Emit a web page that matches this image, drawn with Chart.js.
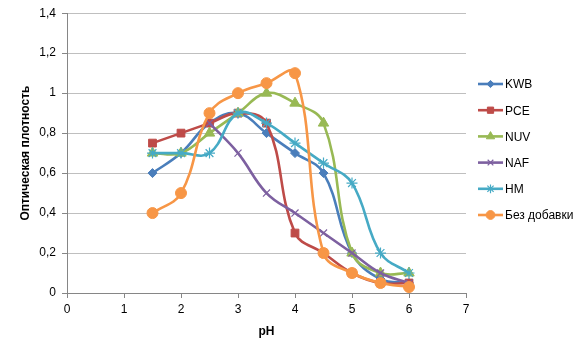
<!DOCTYPE html>
<html>
<head>
<meta charset="utf-8">
<script src="https://cdn.jsdelivr.net/npm/chart.js@4"></script>
<style>
	html, body { margin: 0; padding: 0; background: #fff; }
	canvas { display: block; }
</style>
</head>
<body>
<canvas id="chart" width="585" height="343"></canvas>
<script>

// pH points where samples were measured
var ph = [1.5, 2, 2.5, 3, 3.5, 4, 4.5, 5, 5.5, 6];

// optical density per additive
var kwb   = [0.6,  0.7, 0.85, 0.9, 0.8,  0.7,  0.6,  0.2, 0.07, 0.05];
var pce   = [0.75, 0.8, 0.85, 0.9, 0.85, 0.3,  0.2,  0.1, 0.05, 0.05];
var nuv   = [0.7,  0.7, 0.8,  0.9, 1.0,  0.95, 0.85, 0.2, 0.1,  0.1];
var naf   = [null, null, 0.85, 0.7, 0.5, 0.4,  0.3,  0.2, 0.1,  0.05];
var hm    = [0.7,  0.7, 0.7,  0.9, 0.85, 0.75, 0.65, 0.55, 0.2, 0.1];
var plain = [0.4,  0.5, 0.9,  1.0, 1.05, 1.1,  0.2,  0.1, 0.05, 0.03];

var yTicks = [0, 0.2, 0.4, 0.6, 0.8, 1, 1.2, 1.4];

var FONT = '"Liberation Sans", Arial, sans-serif';

function toPoints(values){
	return ph.map(function(x, i){ return {x: x, y: values[i]}; });
}

function series(label, values, color, style, radius, border){
	return {
		label: label,
		data: toPoints(values),
		borderColor: color,
		backgroundColor: color,
		pointBorderColor: color,
		pointBackgroundColor: color,
		borderWidth: 2.6,
		pointStyle: style,
		pointRadius: radius,
		pointBorderWidth: border || 1,
		tension: 0.4,
		spanGaps: false
	};
}

var datasets = [
	series('KWB', kwb, '#4a7ebb', 'rectRot', 4.5),
	series('PCE', pce, '#be4b48', 'rect', 5.5),
	series('NUV', nuv, '#98b954', 'triangle', 6),
	series('NAF', naf, '#7d60a0', 'crossRot', 5, 1.2),
	series('HM', hm, '#46aac5', 'star', 5.5, 1.2),
	series('Без добавки', plain, '#f79646', 'circle', 5.5)
];
// later series sit on top, like the original spreadsheet
datasets.forEach(function(ds, i){ ds.order = datasets.length - i; });

// legend on the right: short line with the marker in the middle
var sideLegend = {
	id: 'sideLegend',
	afterDraw: function(chart){
		var ctx = chart.ctx;
		var x0 = 478, x1 = 503, top = 84, step = 26.2;
		ctx.save();
		datasets.forEach(function(ds, i){
			var y = top + i * step;
			ctx.strokeStyle = ds.borderColor;
			ctx.lineWidth = 2.6;
			ctx.beginPath();
			ctx.moveTo(x0, y);
			ctx.lineTo(x1, y);
			ctx.stroke();
			ctx.fillStyle = ds.backgroundColor;
			ctx.strokeStyle = ds.borderColor;
			ctx.lineWidth = ds.pointBorderWidth;
			Chart.helpers.drawPoint(ctx, {
				pointStyle: ds.pointStyle,
				radius: ds.pointRadius * 0.8,
				borderWidth: ds.pointBorderWidth,
				rotation: 0
			}, (x0 + x1) / 2, y);
			ctx.fillStyle = '#000';
			ctx.font = '12px ' + FONT;
			ctx.textBaseline = 'middle';
			ctx.textAlign = 'left';
			ctx.fillText(ds.label, x1 + 2, y + 1);
		});
		ctx.restore();
	}
};

new Chart(document.getElementById('chart'), {
	type: 'line',
	data: { datasets: datasets },
	plugins: [sideLegend],
	options: {
		responsive: false,
		animation: false,
		layout: { padding: { left: 0, right: 119, top: 10, bottom: 0 } },
		plugins: {
			legend: { display: false },
			tooltip: { enabled: false }
		},
		scales: {
			x: {
				type: 'linear',
				min: 0,
				max: 7,
				ticks: {
					stepSize: 1,
					color: '#000',
					padding: 4,
					font: { family: FONT, size: 12 }
				},
				grid: {
					drawOnChartArea: false,
					drawTicks: true,
					tickLength: 5,
					color: '#868686'
				},
				border: { color: '#868686', width: 1 },
				title: {
					display: true,
					text: 'pH',
					color: '#000',
					padding: { top: 6 },
					font: { family: FONT, size: 12, weight: 'bold' }
				},
				afterFit: function(scale){ scale.height = 50; }
			},
			y: {
				min: 0,
				max: 1.4,
				afterBuildTicks: function(scale){
					scale.ticks = yTicks.map(function(v){ return {value: v}; });
				},
				ticks: {
					color: '#000',
					padding: 6,
					font: { family: FONT, size: 12 },
					callback: function(v){
						return (Math.round(v * 10) / 10).toString().replace('.', ',');
					}
				},
				grid: {
					color: '#bfbfbf',
					tickLength: 5,
					tickColor: '#868686'
				},
				border: { color: '#868686', width: 1 },
				title: {
					display: true,
					text: 'Оптическая плотность',
					color: '#000',
					// push the rotated title in towards the tick labels
					padding: { top: 18, bottom: 0 },
					font: { family: FONT, size: 12, weight: 'bold' }
				},
				afterFit: function(scale){ scale.width = 67; }
			}
		}
	}
});
</script>
</body>
</html>
